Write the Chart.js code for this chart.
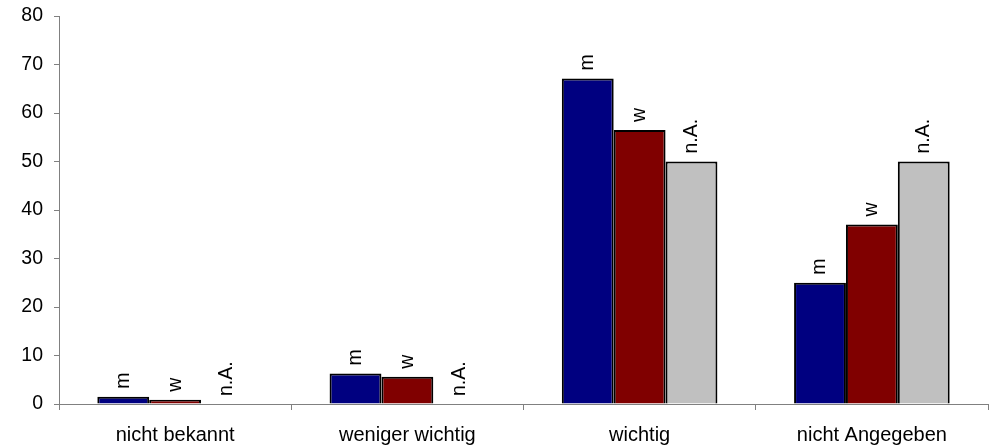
<!DOCTYPE html>
<html lang="de">
<head>
    <meta charset="UTF-8">
    <script src="https://cdn.jsdelivr.net/npm/chart.js"></script>
    <title>Wichtigkeit</title>
    <style>
        html, body { margin: 0; padding: 0; background: #fff; }
        #wrap { width: 998px; height: 448px; }
    </style>
</head>
<body>
<div id="wrap"><canvas id="myChart" width="998" height="448"></canvas></div>

<script>
    // data
    const categories = ['nicht bekannt', 'weniger wichtig', 'wichtig', 'nicht Angegeben'];
    const seriesNames = ['m', 'w', 'n.A.'];
    const mValues = [1.5, 6.3, 67.1, 25];
    const wValues = [0.9, 5.6, 56.5, 37];
    const naValues = [0, 0, 50, 50];
    const yTicks = [0, 10, 20, 30, 40, 50, 60, 70, 80];

    const colors = ['#000080', '#800000', '#C0C0C0'];
    const fontFamily = '"Liberation Sans", Arial, sans-serif';

    // labels above each bar, rotated
    const barLabels = {
        id: 'barLabels',
        afterDatasetsDraw(chart) {
            const ctx = chart.ctx;
            ctx.save();
            ctx.font = '19.5px ' + fontFamily;
            ctx.fillStyle = '#000';
            ctx.textAlign = 'left';
            ctx.textBaseline = 'middle';
            chart.data.datasets.forEach((ds, i) => {
                chart.getDatasetMeta(i).data.forEach(bar => {
                    ctx.save();
                    ctx.translate(bar.x, bar.y - 8);
                    ctx.rotate(-Math.PI / 2);
                    ctx.fillText(ds.label, 0, 0);
                    ctx.restore();
                });
            });
            ctx.restore();
        }
    };

    const data = {
        labels: categories,
        datasets: [
            { label: seriesNames[0], data: mValues },
            { label: seriesNames[1], data: wValues },
            { label: seriesNames[2], data: naValues }
        ].map((d, i) => Object.assign(d, {
            backgroundColor: colors[i],
            borderColor: '#000',
            borderWidth: 2,
            borderSkipped: 'bottom',
            categoryPercentage: 0.67,
            barPercentage: 1
        }))
    };

    const config = {
        type: 'bar',
        data: data,
        plugins: [barLabels],
        options: {
            responsive: false,
            animation: false,
            layout: { padding: { top: 16, right: 10, left: 0, bottom: 0 } },
            plugins: {
                legend: { display: false },
                tooltip: { enabled: false }
            },
            scales: {
                x: {
                    afterFit(scale) { scale.height = 44; },
                    border: { color: '#808080', width: 1 },
                    grid: { display: true, drawOnChartArea: false, offset: true, tickLength: 6, color: '#808080' },
                    ticks: {
                        color: '#000',
                        font: { family: fontFamily, size: 20 },
                        padding: 13
                    }
                },
                y: {
                    min: 0,
                    max: 80,
                    afterFit(scale) {
                        scale.width = 59;
                        scale.paddingTop = 0;
                        scale.paddingBottom = 0;
                    },
                    afterBuildTicks(scale) { scale.ticks = yTicks.map(v => ({ value: v })); },
                    border: { color: '#808080', width: 1 },
                    grid: { display: true, drawOnChartArea: false, tickLength: 5, color: '#808080' },
                    ticks: {
                        color: '#000',
                        font: { family: fontFamily, size: 19.5 },
                        padding: 11
                    }
                }
            }
        }
    };

    const myChart = new Chart(document.getElementById('myChart'), config);
</script>
</body>
</html>
